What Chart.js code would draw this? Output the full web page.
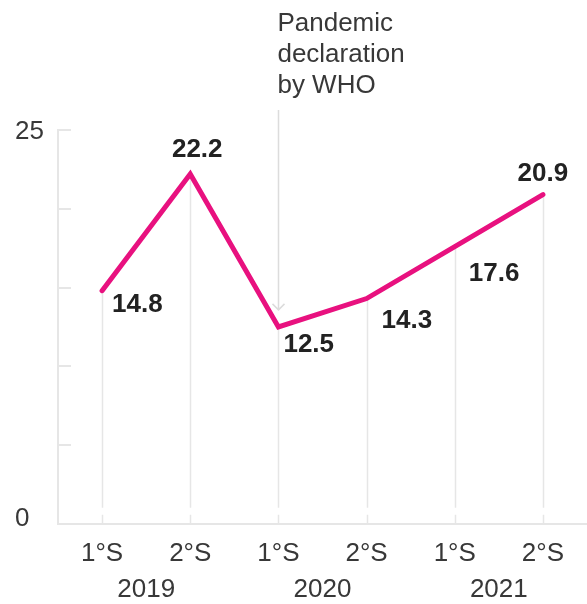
<!DOCTYPE html>
<html>
<head>
<meta charset="utf-8">
<script src="https://cdn.jsdelivr.net/npm/chart.js@4"></script>
<style>
  html, body { margin: 0; padding: 0; background: #fff; }
  #wrap { position: relative; width: 587px; height: 604px; }
</style>
</head>
<body>
<div id="wrap"><canvas id="c" width="587" height="604"></canvas></div>
<script>
// Half-year categories, grouped by year
const categories = ['1°S', '2°S', '1°S', '2°S', '1°S', '2°S'];
const years = ['2019', '2020', '2021'];
const values = [14.8, 22.2, 12.5, 14.3, 17.6, 20.9];
const yTicks = [0, 5, 10, 15, 20, 25];
const yTickLabels = ['0', '25'];
const annotationText = ['Pandemic', 'declaration', 'by WHO'];
const annotationIndex = 2;

// Where each value label sits relative to its point
const labelPlacement = [
  { dx: 10, dy: 14, align: 'left' },
  { dx: 7, dy: -24, align: 'center' },
  { dx: 5, dy: 18, align: 'left' },
  { dx: 15, dy: 22, align: 'left' },
  { dx: 14, dy: 27, align: 'left' },
  { dx: 0, dy: -21, align: 'center' }
];

const LINE = '#e8117f';
const GRID = '#e6e6e6';
const TEXT = '#383838';
const FONT = '"Liberation Sans", Arial, Helvetica, sans-serif';

const decorations = {
  id: 'decorations',
  beforeDatasetsDraw(chart) {
    const { ctx, scales: { x, y }, chartArea } = chart;
    ctx.save();
    ctx.strokeStyle = GRID;
    ctx.lineWidth = 1.5;
    // drop lines from each point toward the baseline, plus short base ticks
    values.forEach((v, i) => {
      const px = Math.round(x.getPixelForValue(i)) + 0.5;
      const py = y.getPixelForValue(v);
      ctx.beginPath();
      ctx.moveTo(px, py);
      ctx.lineTo(px, chartArea.bottom - 16);
      ctx.moveTo(px, chartArea.bottom - 9);
      ctx.lineTo(px, chartArea.bottom);
      ctx.stroke();
    });
    // inward tick marks on the value axis
    ctx.lineWidth = 2;
    yTicks.forEach(t => {
      const py = Math.round(y.getPixelForValue(t));
      ctx.beginPath();
      ctx.moveTo(chartArea.left, py);
      ctx.lineTo(chartArea.left + 13, py);
      ctx.stroke();
    });
    // event marker: vertical arrow down to the 2020 first half
    const ax = Math.round(x.getPixelForValue(annotationIndex)) + 0.5;
    const ay = y.getPixelForValue(values[annotationIndex]) - 17;
    ctx.lineWidth = 1.5;
    ctx.strokeStyle = '#dcdcdc';
    ctx.beginPath();
    ctx.moveTo(ax, 110);
    ctx.lineTo(ax, ay);
    ctx.moveTo(ax - 6, ay - 6);
    ctx.lineTo(ax, ay);
    ctx.lineTo(ax + 6, ay - 6);
    ctx.stroke();
    ctx.restore();
  },
  afterDatasetsDraw(chart) {
    const { ctx, scales: { x, y } } = chart;
    ctx.save();
    // value labels
    ctx.fillStyle = '#222';
    ctx.font = 'bold 26px ' + FONT;
    ctx.textBaseline = 'middle';
    values.forEach((v, i) => {
      const p = labelPlacement[i];
      ctx.textAlign = p.align;
      ctx.fillText(v.toFixed(1), x.getPixelForValue(i) + p.dx, y.getPixelForValue(v) + p.dy);
    });
    // value axis labels (only ends)
    ctx.fillStyle = TEXT;
    ctx.font = '26px ' + FONT;
    ctx.textAlign = 'left';
    ctx.fillText(yTickLabels[0], 15, y.getPixelForValue(0) - 5);
    ctx.fillText(yTickLabels[1], 15, y.getPixelForValue(25) + 2);
    // year group labels centred under each pair of half-years
    ctx.textAlign = 'center';
    years.forEach((yr, k) => {
      const cx = (x.getPixelForValue(2 * k) + x.getPixelForValue(2 * k + 1)) / 2;
      ctx.fillText(yr, cx, 590);
    });
    // annotation text
    ctx.textAlign = 'left';
    const tx = x.getPixelForValue(annotationIndex) - 1;
    annotationText.forEach((line, k) => {
      ctx.fillText(line, tx, 24 + k * 31);
    });
    ctx.restore();
  }
};

new Chart(document.getElementById('c'), {
  type: 'line',
  data: {
    labels: categories,
    datasets: [{
      data: values,
      borderColor: LINE,
      borderWidth: 5,
      borderCapStyle: 'round',
      borderJoinStyle: 'miter',
      pointRadius: 0,
      pointHoverRadius: 0,
      tension: 0,
      fill: false
    }]
  },
  options: {
    responsive: false,
    animation: false,
    events: [],
    layout: { padding: { left: 50, top: 130, right: 0, bottom: 29 } },
    plugins: { legend: { display: false }, tooltip: { enabled: false } },
    scales: {
      x: {
        offset: true,
        grid: { display: false },
        border: { display: true, color: GRID, width: 2 },
        ticks: { color: TEXT, font: { family: FONT, size: 26 }, padding: 6, maxRotation: 0 }
      },
      y: {
        min: 0,
        max: 25,
        grid: { display: false },
        border: { display: true, color: GRID, width: 2 },
        ticks: { display: false }
      }
    }
  },
  plugins: [decorations]
});
</script>
</body>
</html>
